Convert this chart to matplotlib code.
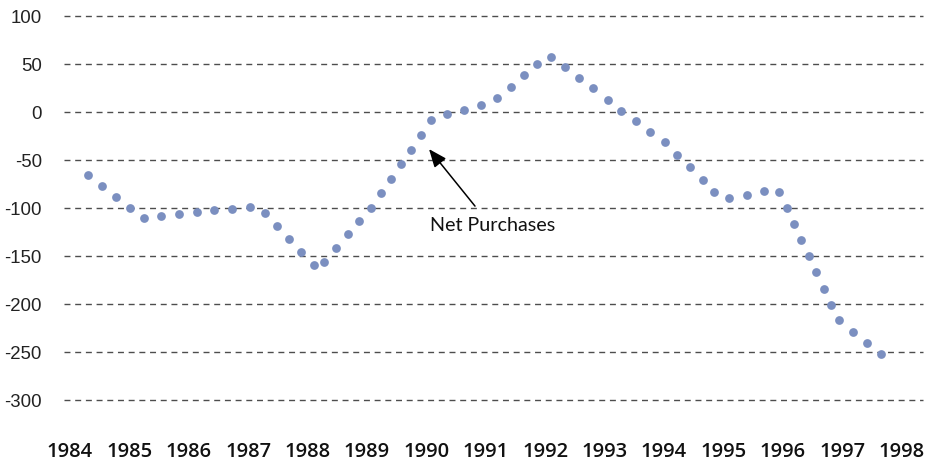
import matplotlib
matplotlib.use("Agg")
import matplotlib.pyplot as plt

# Time in fractional years, values of net purchases
x_years = [1984.31, 1984.54, 1984.77, 1985.01, 1985.25, 1985.54, 1985.84, 1986.13,
           1986.43, 1986.73, 1987.03, 1987.28, 1987.48, 1987.68, 1987.89, 1988.10,
           1988.28, 1988.48, 1988.68, 1988.87, 1989.06, 1989.23, 1989.40, 1989.57,
           1989.74, 1989.91, 1990.08, 1990.35, 1990.63, 1990.92, 1991.19, 1991.42,
           1991.64, 1991.87, 1992.10, 1992.34, 1992.57, 1992.81, 1993.05, 1993.27,
           1993.53, 1993.77, 1994.01, 1994.22, 1994.43, 1994.65, 1994.85, 1995.09,
           1995.39, 1995.68, 1995.94, 1996.07, 1996.19, 1996.31, 1996.44, 1996.56,
           1996.69, 1996.81, 1996.95, 1997.19, 1997.42, 1997.65]
net_purchases = [-66, -77, -89, -100, -111, -108.5, -107, -104.5, -102.5, -101, -99.5,
                 -106, -119.5, -133, -146.5, -160, -157, -142, -128, -114, -100, -85,
                 -70, -55, -40, -24, -9, -2.5, 2, 7, 14.5, 26, 38.5, 50, 57, 46, 35,
                 24, 12, 1, -10, -21, -32, -45, -58, -71, -84, -90, -86.5, -83, -83.5,
                 -100.5, -117, -134, -150.5, -167.5, -184.5, -201, -217, -229, -240.5,
                 -252.5]
year_ticks = list(range(1984, 1999))
y_ticks = [100, 50, 0, -50, -100, -150, -200, -250, -300]
annotation_text = "Net Purchases"

fig = plt.figure(figsize=(9.36, 4.64), dpi=100)
W, H = 936, 464
ax = fig.add_axes([64 / W, 1 - 400.7 / H, (923 - 64) / W, (400.7 - 16.5) / H])

px_per_year = 59.4
x0 = 1984 - 6 / px_per_year
x1 = 1984 + 853 / px_per_year
ax.set_xlim(x0, x1)
ax.set_ylim(-300, 100)

ax.plot(x_years, net_purchases, linestyle="none", marker="o", markersize=6.3,
        markerfacecolor="#7b8fc0", markeredgecolor="none", zorder=3)

ax.set_yticks(y_ticks)
ax.set_yticklabels([str(v) for v in y_ticks], fontfamily="Liberation Sans",
                   fontsize=13.4, color="#222222")
ax.set_xticks(year_ticks)
ax.set_xticklabels([str(y) for y in year_ticks], fontfamily="Open Sans",
                   fontweight="semibold", fontsize=14.5, color="#111111")
ax.tick_params(axis="y", length=0, pad=16)
ax.tick_params(axis="x", length=0, pad=30)

ax.grid(False)
for v in y_ticks:
    ax.axhline(v, color="#4d4d4d", linewidth=1.0, linestyle=(0, (4.3, 3.4)),
               zorder=1, clip_on=False)

for s in ax.spines.values():
    s.set_visible(False)

# annotation arrow: tip near point at ~1990.0
tip_x = 1984 + (429 - 70) / px_per_year
tail_x = 1984 + (475 - 70) / px_per_year
ax.annotate("", xy=(tip_x, (113.5 - 151) / 0.96), xytext=(tail_x, (113.5 - 208) / 0.96),
            arrowprops=dict(arrowstyle="-|>,head_length=1.1,head_width=0.45",
                            color="black", lw=1.1, shrinkA=0, shrinkB=0))
ax.text(1984 + (493 - 70) / px_per_year, (113.5 - 226) / 0.96, annotation_text,
        fontfamily="Lato", fontsize=14.2, ha="center", va="center", color="#111111")

fig.savefig("out.png", dpi=100)
